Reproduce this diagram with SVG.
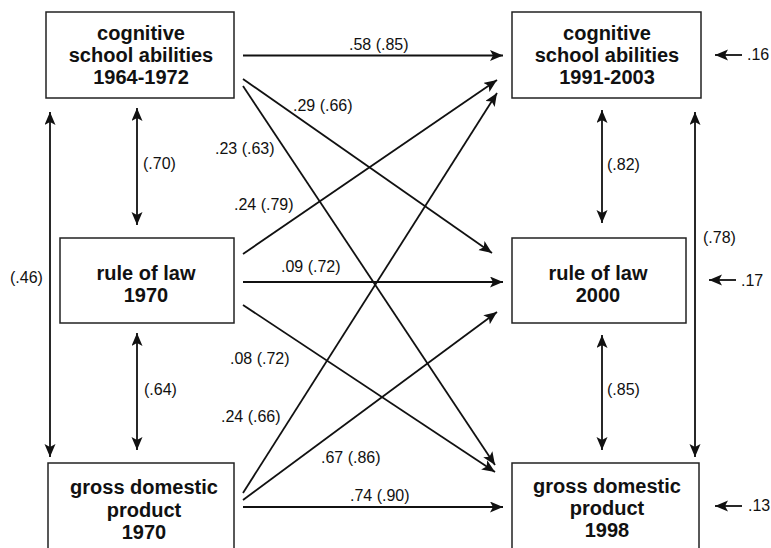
<svg xmlns="http://www.w3.org/2000/svg" width="771" height="548" viewBox="0 0 771 548">
  <style>
    .box { fill: #fff; stroke: #222; stroke-width: 1.5; }
    .node { font-family: "Liberation Sans", Arial, sans-serif; font-weight: bold; font-size: 20px; fill: #111; text-anchor: middle; }
    .lbl { font-family: "Liberation Sans", Arial, sans-serif; font-size: 16px; fill: #111; }
    .edge { stroke: #111; stroke-width: 1.8; fill: none; marker-end: url(#ah); }
    .both { marker-start: url(#ah); }
  </style>
  <defs>
    <marker id="ah" markerUnits="userSpaceOnUse" markerWidth="14" markerHeight="12" refX="13" refY="5.5" orient="auto-start-reverse">
      <path d="M0,0 L13,5.5 L0,11 L3,5.5 Z" fill="#111"/>
    </marker>
  </defs>

  <rect width="771" height="548" fill="#fff"/>

  <!-- nodes -->
  <g id="cog1964">
    <rect class="box" x="46" y="12" width="188" height="86"/>
    <text class="node" x="141" y="40">cognitive</text>
    <text class="node" x="141" y="62">school abilities</text>
    <text class="node" x="141" y="84">1964-1972</text>
  </g>
  <g id="law1970">
    <rect class="box" x="60" y="238" width="174" height="85"/>
    <text class="node" x="146" y="280">rule of law</text>
    <text class="node" x="146" y="302">1970</text>
  </g>
  <g id="gdp1970">
    <rect class="box" x="48" y="463" width="186" height="95"/>
    <text class="node" x="144" y="494">gross domestic</text>
    <text class="node" x="144" y="517">product</text>
    <text class="node" x="144" y="539">1970</text>
  </g>
  <g id="cog1991">
    <rect class="box" x="512" y="12" width="189" height="86"/>
    <text class="node" x="607" y="40">cognitive</text>
    <text class="node" x="607" y="62">school abilities</text>
    <text class="node" x="607" y="84">1991-2003</text>
  </g>
  <g id="law2000">
    <rect class="box" x="512" y="238" width="174" height="85"/>
    <text class="node" x="598" y="280">rule of law</text>
    <text class="node" x="598" y="302">2000</text>
  </g>
  <g id="gdp1998">
    <rect class="box" x="512" y="463" width="187" height="95"/>
    <text class="node" x="607" y="493">gross domestic</text>
    <text class="node" x="607" y="515">product</text>
    <text class="node" x="607" y="537">1998</text>
  </g>

  <!-- connectors -->
  <g id="connectors">
    <!-- horizontal paths -->
    <line class="edge" x1="243" y1="55.5" x2="503" y2="55.5"/>
    <line class="edge" x1="243" y1="282" x2="503" y2="282"/>
    <line class="edge" x1="243" y1="507" x2="503" y2="507"/>
    <!-- cross-lagged paths -->
    <line class="edge" x1="243" y1="79" x2="492" y2="253"/>
    <line class="edge" x1="243" y1="86" x2="495" y2="465"/>
    <line class="edge" x1="243" y1="254" x2="497" y2="80"/>
    <line class="edge" x1="243" y1="305" x2="495" y2="472"/>
    <line class="edge" x1="243" y1="493" x2="497" y2="93"/>
    <line class="edge" x1="243" y1="500" x2="497" y2="312"/>
    <!-- correlations -->
    <line class="edge both" x1="50" y1="112" x2="50" y2="457"/>
    <line class="edge both" x1="137" y1="108" x2="137" y2="225"/>
    <line class="edge both" x1="137" y1="333" x2="137" y2="450"/>
    <line class="edge both" x1="602" y1="110" x2="602" y2="223"/>
    <line class="edge both" x1="602" y1="335" x2="602" y2="450"/>
    <line class="edge both" x1="695" y1="112" x2="695" y2="457"/>
    <!-- residuals -->
    <line class="edge" x1="742" y1="55" x2="715" y2="55"/>
    <line class="edge" x1="736" y1="280" x2="709" y2="280"/>
    <line class="edge" x1="742" y1="506" x2="715" y2="506"/>
  </g>

  <!-- coefficients -->
  <g id="labels">
    <text class="lbl" x="349" y="50">.58 (.85)</text>
    <text class="lbl" x="293" y="111">.29 (.66)</text>
    <text class="lbl" x="215" y="154">.23 (.63)</text>
    <text class="lbl" x="234" y="210">.24 (.79)</text>
    <text class="lbl" x="281" y="272">.09 (.72)</text>
    <text class="lbl" x="230" y="364">.08 (.72)</text>
    <text class="lbl" x="221" y="422">.24 (.66)</text>
    <text class="lbl" x="321" y="463">.67 (.86)</text>
    <text class="lbl" x="350" y="501">.74 (.90)</text>
    <text class="lbl" x="143" y="169">(.70)</text>
    <text class="lbl" x="144" y="395">(.64)</text>
    <text class="lbl" x="10" y="283">(.46)</text>
    <text class="lbl" x="607" y="170">(.82)</text>
    <text class="lbl" x="607" y="395">(.85)</text>
    <text class="lbl" x="703" y="243">(.78)</text>
    <text class="lbl" x="747" y="60">.16</text>
    <text class="lbl" x="741" y="286">.17</text>
    <text class="lbl" x="748" y="511">.13</text>
  </g>
</svg>
